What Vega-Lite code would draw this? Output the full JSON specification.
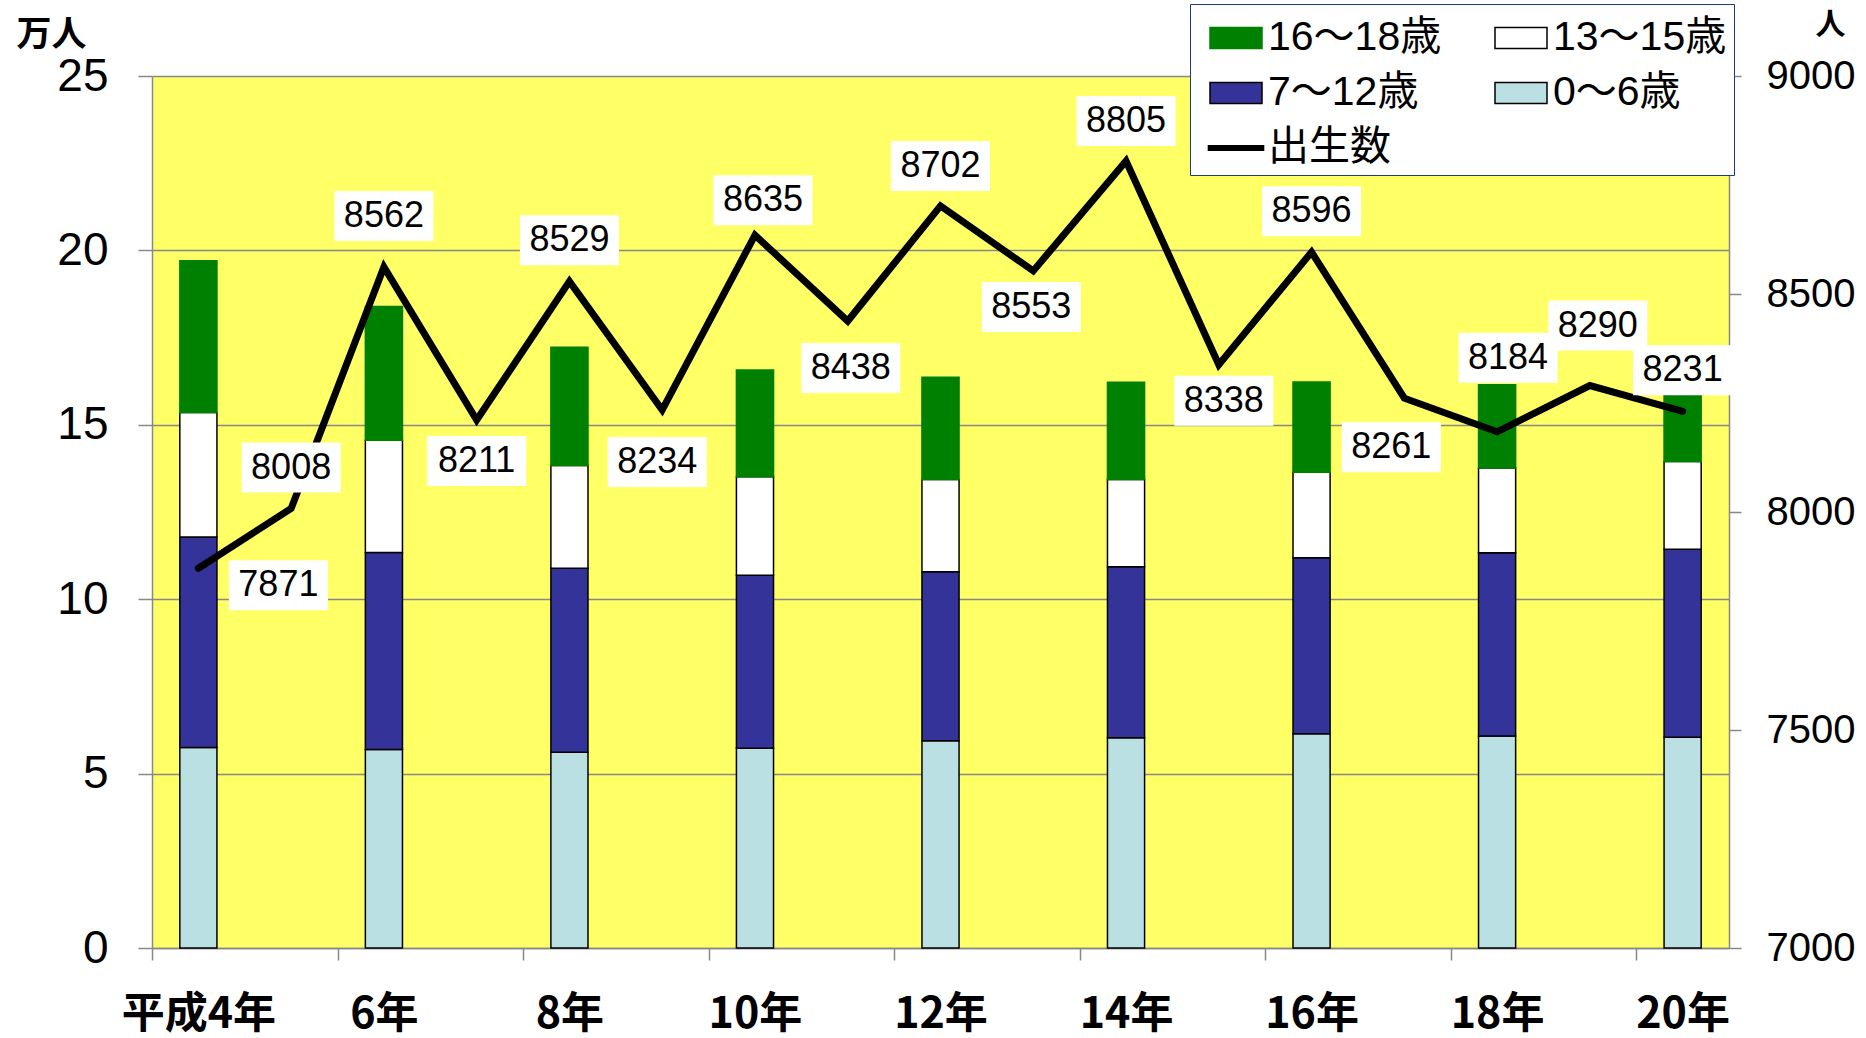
{
  "$schema": "https://vega.github.io/schema/vega-lite/v6.json",
  "width": 1577,
  "height": 872,
  "autosize": {"type": "none"},
  "padding": {"left": 152, "top": 76, "right": 137, "bottom": 90},
  "background": "white",
  "config": {
    "view": {"fill": "#FFFF66", "stroke": null},
    "font": "Liberation Sans, Noto Sans CJK JP",
    "legend": {
      "orient": "none",
      "legendX": 1038,
      "legendY": -72,
      "direction": "horizontal",
      "columns": 2,
      "padding": 7,
      "fillColor": "white",
      "strokeColor": "#1F3A80",
      "labelFont": "Liberation Sans, Noto Sans CJK JP",
      "labelFontSize": 41,
      "labelColor": "black",
      "labelLimit": 500,
      "labelOffset": 5,
      "symbolOffset": 12,
      "symbolSize": 2704,
      "symbolStrokeWidth": 1.5,
      "symbolOpacity": 1,
      "rowPadding": 8,
      "columnPadding": 40
    }
  },
  "datasets": {
    "pop": [
      {"year": 4, "age": "0～6歳", "lo": 0, "v": 5.75},
      {"year": 4, "age": "7～12歳", "lo": 7, "v": 6.03},
      {"year": 4, "age": "13～15歳", "lo": 13, "v": 3.57},
      {"year": 4, "age": "16～18歳", "lo": 16, "v": 4.35},
      {"year": 6, "age": "0～6歳", "lo": 0, "v": 5.69},
      {"year": 6, "age": "7～12歳", "lo": 7, "v": 5.65},
      {"year": 6, "age": "13～15歳", "lo": 13, "v": 3.22},
      {"year": 6, "age": "16～18歳", "lo": 16, "v": 3.83},
      {"year": 8, "age": "0～6歳", "lo": 0, "v": 5.61},
      {"year": 8, "age": "7～12歳", "lo": 7, "v": 5.28},
      {"year": 8, "age": "13～15歳", "lo": 13, "v": 2.94},
      {"year": 8, "age": "16～18歳", "lo": 16, "v": 3.39},
      {"year": 10, "age": "0～6歳", "lo": 0, "v": 5.73},
      {"year": 10, "age": "7～12歳", "lo": 7, "v": 4.96},
      {"year": 10, "age": "13～15歳", "lo": 13, "v": 2.82},
      {"year": 10, "age": "16～18歳", "lo": 16, "v": 3.06},
      {"year": 12, "age": "0～6歳", "lo": 0, "v": 5.94},
      {"year": 12, "age": "7～12歳", "lo": 7, "v": 4.85},
      {"year": 12, "age": "13～15歳", "lo": 13, "v": 2.64},
      {"year": 12, "age": "16～18歳", "lo": 16, "v": 2.93},
      {"year": 14, "age": "0～6歳", "lo": 0, "v": 6.03},
      {"year": 14, "age": "7～12歳", "lo": 7, "v": 4.90},
      {"year": 14, "age": "13～15歳", "lo": 13, "v": 2.50},
      {"year": 14, "age": "16～18歳", "lo": 16, "v": 2.79},
      {"year": 16, "age": "0～6歳", "lo": 0, "v": 6.14},
      {"year": 16, "age": "7～12歳", "lo": 7, "v": 5.05},
      {"year": 16, "age": "13～15歳", "lo": 13, "v": 2.45},
      {"year": 16, "age": "16～18歳", "lo": 16, "v": 2.59},
      {"year": 18, "age": "0～6歳", "lo": 0, "v": 6.08},
      {"year": 18, "age": "7～12歳", "lo": 7, "v": 5.25},
      {"year": 18, "age": "13～15歳", "lo": 13, "v": 2.43},
      {"year": 18, "age": "16～18歳", "lo": 16, "v": 2.39},
      {"year": 20, "age": "0～6歳", "lo": 0, "v": 6.04},
      {"year": 20, "age": "7～12歳", "lo": 7, "v": 5.39},
      {"year": 20, "age": "13～15歳", "lo": 13, "v": 2.52},
      {"year": 20, "age": "16～18歳", "lo": 16, "v": 2.05}
    ],
    "births": [
      {"year": 4, "n": 7871},
      {"year": 5, "n": 8008},
      {"year": 6, "n": 8562},
      {"year": 7, "n": 8211},
      {"year": 8, "n": 8529},
      {"year": 9, "n": 8234},
      {"year": 10, "n": 8635},
      {"year": 11, "n": 8438},
      {"year": 12, "n": 8702},
      {"year": 13, "n": 8553},
      {"year": 14, "n": 8805},
      {"year": 15, "n": 8338},
      {"year": 16, "n": 8596},
      {"year": 17, "n": 8261},
      {"year": 18, "n": 8184},
      {"year": 19, "n": 8290},
      {"year": 20, "n": 8231}
    ]
  },
  "encoding": {
    "x": {
      "field": "year",
      "type": "ordinal",
      "scale": {
        "domain": [4, 5, 6, 7, 8, 9, 10, 11, 12, 13, 14, 15, 16, 17, 18, 19, 20],
        "paddingInner": 0,
        "paddingOuter": 0
      },
      "axis": {
        "values": [4, 6, 8, 10, 12, 14, 16, 18, 20],
        "labelExpr": "datum.value == 4 ? '平成4年' : datum.value + '年'",
        "title": null,
        "labelAngle": 0,
        "labelFont": "Noto Sans CJK JP",
        "labelFontSize": 43,
        "labelFontWeight": "bold",
        "labelColor": "black",
        "labelPadding": 33,
        "tickOffset": -46.38,
        "labelOffset": 46.38,
        "tickSize": 12,
        "tickColor": "#888888",
        "tickWidth": 1.5,
        "domainColor": "#888888",
        "domainWidth": 1.5,
        "grid": false
      }
    }
  },
  "layer": [
    {
      "data": {"name": "pop"},
      "mark": {"type": "bar", "width": {"band": 0.4}, "strokeWidth": 1.5},
      "encoding": {
        "y": {
          "field": "v",
          "type": "quantitative",
          "stack": "zero",
          "scale": {"domain": [0, 25]},
          "axis": {
            "orient": "left",
            "values": [0, 5, 10, 15, 20, 25],
            "title": "万人",
            "titleAngle": 0,
            "titleX": -101,
            "titleY": -42,
            "titleAlign": "center",
            "titleBaseline": "middle",
            "titleFont": "Noto Sans CJK JP",
            "titleFontSize": 35,
            "titleFontWeight": "bold",
            "titleColor": "black",
            "labelFont": "Liberation Sans",
            "labelFontSize": 46,
            "labelColor": "black",
            "labelPadding": 30,
            "tickSize": 14,
            "tickColor": "#888888",
            "tickWidth": 1.5,
            "domainColor": "#888888",
            "domainWidth": 1.5,
            "grid": true,
            "gridColor": "#888888",
            "gridWidth": 1.5
          }
        },
        "color": {
          "field": "age",
          "type": "nominal",
          "scale": {
            "domain": ["16～18歳", "13～15歳", "7～12歳", "0～6歳"],
            "range": ["#008000", "#ffffff", "#333399", "#bbe0e3"]
          },
          "legend": null
        },
        "stroke": {
          "condition": {"test": "datum.age === '16～18歳'", "value": "#008000"},
          "value": "#000000"
        },
        "order": {"field": "lo", "type": "quantitative", "sort": "ascending"}
      }
    },
    {
      "data": {"name": "pop"},
      "mark": {"type": "point", "filled": true, "opacity": 0},
      "encoding": {
        "fill": {
          "field": "age",
          "type": "nominal",
          "scale": {
            "domain": ["16～18歳", "13～15歳", "7～12歳", "0～6歳", "出生数"],
            "range": ["#008000", "#ffffff", "#333399", "#bbe0e3", "#000000"]
          },
          "legend": {"title": null}
        },
        "shape": {
          "field": "age",
          "type": "nominal",
          "scale": {
            "domain": ["16～18歳", "13～15歳", "7～12歳", "0～6歳", "出生数"],
            "range": [
              "M-1,-0.4L1,-0.4L1,0.4L-1,0.4Z",
              "M-1,-0.4L1,-0.4L1,0.4L-1,0.4Z",
              "M-1,-0.4L1,-0.4L1,0.4L-1,0.4Z",
              "M-1,-0.4L1,-0.4L1,0.4L-1,0.4Z",
              "M-1.06,-0.09L1.06,-0.09L1.06,0.09L-1.06,0.09Z"
            ]
          },
          "legend": {"title": null}
        },
        "stroke": {
          "field": "age",
          "type": "nominal",
          "scale": {
            "domain": ["16～18歳", "13～15歳", "7～12歳", "0～6歳", "出生数"],
            "range": ["#008000", "#000000", "#000000", "#000000", "#000000"]
          },
          "legend": {"title": null}
        }
      }
    },
    {
      "data": {"name": "births"},
      "encoding": {
        "y": {
          "field": "n",
          "type": "quantitative",
          "scale": {"domain": [7000, 9000]},
          "axis": {
            "orient": "right",
            "values": [7000, 7500, 8000, 8500, 9000],
            "format": "d",
            "title": "人",
            "titleAngle": 0,
            "titleX": 101,
            "titleY": -52,
            "titleAlign": "center",
            "titleBaseline": "middle",
            "titleFont": "Noto Sans CJK JP",
            "titleFontSize": 30,
            "titleFontWeight": "bold",
            "titleColor": "black",
            "labelFont": "Liberation Sans",
            "labelFontSize": 40,
            "labelColor": "black",
            "labelPadding": 25,
            "tickSize": 12,
            "tickColor": "#888888",
            "tickWidth": 1.5,
            "domainColor": "#888888",
            "domainWidth": 1.5,
            "grid": false
          }
        }
      },
      "layer": [
        {
          "mark": {"type": "line", "color": "black", "strokeWidth": 7, "strokeCap": "round", "strokeJoin": "miter"}
        },
        {
          "mark": {
            "type": "point",
            "shape": "M-1,-0.505L1,-0.505L1,0.505L-1,0.505Z",
            "size": 9801,
            "filled": true,
            "color": "white",
            "opacity": 1,
            "xOffset": {"expr": "[80,0,0,0,0,-5,8,3,0,-2,0,5,0,-13,11,8,0][datum.year - 4]"},
            "yOffset": {"expr": "[17,-41,-51,41,-41,52,-35,47,-40,36,-40,36,-41,49,-74,-60,-41][datum.year - 4]"}
          }
        },
        {
          "mark": {
            "type": "text",
            "font": "Liberation Sans",
            "fontSize": 36,
            "color": "black",
            "align": "center",
            "baseline": "middle",
            "xOffset": {"expr": "[80,0,0,0,0,-5,8,3,0,-2,0,5,0,-13,11,8,0][datum.year - 4]"},
            "yOffset": {"expr": "[17,-41,-51,41,-41,52,-35,47,-40,36,-40,36,-41,49,-74,-60,-41][datum.year - 4]"}
          },
          "encoding": {
            "text": {"field": "n", "type": "quantitative", "format": "d"}
          }
        }
      ]
    }
  ],
  "resolve": {"scale": {"y": "independent"}, "axis": {"y": "independent"}}
}
